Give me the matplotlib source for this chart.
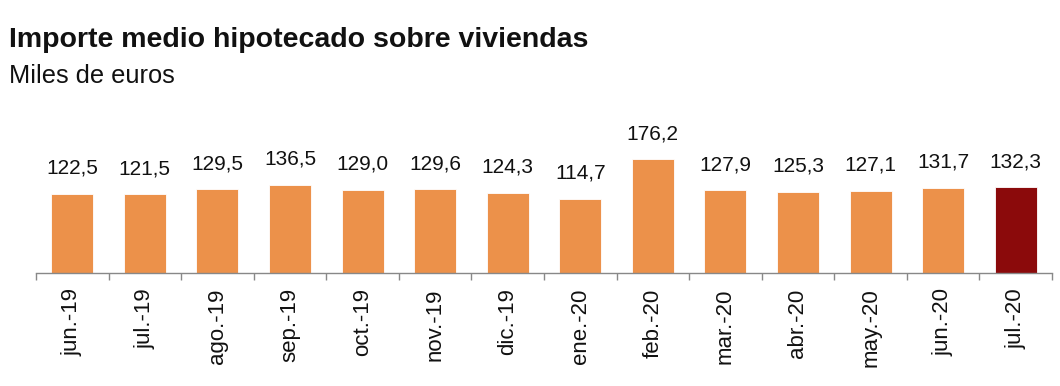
import matplotlib
matplotlib.use("Agg")
import matplotlib.pyplot as plt
from matplotlib.ticker import FixedLocator

categories = ["jun.-19", "jul.-19", "ago.-19", "sep.-19", "oct.-19", "nov.-19", "dic.-19",
              "ene.-20", "feb.-20", "mar.-20", "abr.-20", "may.-20", "jun.-20", "jul.-20"]
values = [122.5, 121.5, 129.5, 136.5, 129.0, 129.6, 124.3, 114.7, 176.2, 127.9, 125.3, 127.1, 131.7, 132.3]
labels = ["122,5", "121,5", "129,5", "136,5", "129,0", "129,6", "124,3", "114,7", "176,2",
          "127,9", "125,3", "127,1", "131,7", "132,3"]

plt.rcParams['font.family'] = ['Liberation Sans', 'DejaVu Sans']

fig = plt.figure(figsize=(10.6, 3.86), dpi=100)
ax = fig.add_axes([36/1060, 113/386, 1016/1060, 163/386])

orange = "#EC914A"
dark = "#8B0A0B"
colors = [orange] * (len(values) - 1) + [dark]
x = list(range(len(values)))
bars = ax.bar(x, values, width=0.58, color=colors, edgecolor="white", linewidth=0.6)

for xi, v, lab in zip(x, values, labels):
    ax.annotate(lab, (xi, v), xytext=(0, 11.5), textcoords="offset points",
                ha="center", va="bottom", fontsize=15, color="#111111")

ax.set_xlim(-0.5, len(values) - 0.5)
ax.set_ylim(0, 252)
ax.set_xticks(x)
ax.set_xticklabels(categories, rotation=90, fontsize=16, color="#111111")
ax.tick_params(axis="x", which="major", length=0, pad=11)
ax.xaxis.set_minor_locator(FixedLocator([i - 0.5 for i in range(len(values) + 1)]))
ax.tick_params(axis="x", which="minor", length=5, color="#888888", width=1)
ax.set_yticks([])
for s in ["left", "right", "top"]:
    ax.spines[s].set_visible(False)
ax.spines["bottom"].set_color("#888888")
ax.spines["bottom"].set_linewidth(1)

fig.text(9/1060, 1 - 47/386, "Importe medio hipotecado sobre viviendas", fontsize=20.5,
         fontweight="bold", ha="left", va="baseline", color="#111111")
fig.text(9/1060, 1 - 83/386, "Miles de euros", fontsize=18.3, ha="left", va="baseline",
         color="#111111")

fig.savefig("out.png", dpi=100)
